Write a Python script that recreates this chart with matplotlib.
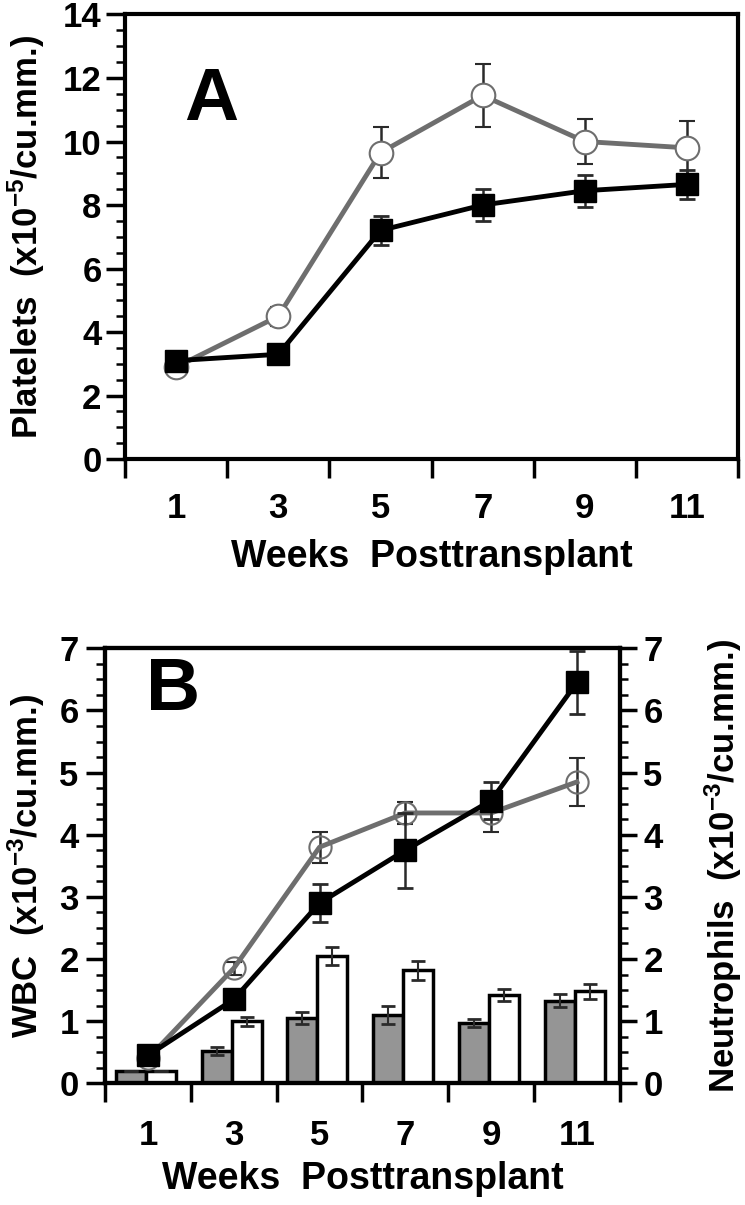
import numpy as np
import matplotlib
matplotlib.use('Agg')
import matplotlib.pyplot as plt

plt.rcParams['font.family'] = ['Liberation Sans', 'DejaVu Sans']
plt.rcParams['font.weight'] = 'bold'
plt.rcParams['mathtext.fontset'] = 'custom'
plt.rcParams['mathtext.rm'] = 'Liberation Sans:bold'
plt.rcParams['mathtext.bf'] = 'Liberation Sans:bold'
plt.rcParams['mathtext.default'] = 'bf'

# data
weeks = [1, 3, 5, 7, 9, 11]

# panel A - platelets
plt_open = [2.9, 4.5, 9.65, 11.45, 10.0, 9.8]
plt_open_err = [0.1, 0.3, 0.8, 1.0, 0.7, 0.85]
plt_filled = [3.1, 3.3, 7.2, 8.0, 8.45, 8.65]
plt_filled_err = [0.15, 0.25, 0.45, 0.5, 0.5, 0.45]

# panel B - WBC lines
wbc_open = [0.4, 1.85, 3.8, 4.35, 4.35, 4.85]
wbc_open_err = [0.05, 0.1, 0.25, 0.17, 0.3, 0.38]
wbc_filled = [0.45, 1.35, 2.9, 3.75, 4.55, 6.45]
wbc_filled_err = [0.05, 0.1, 0.3, 0.6, 0.3, 0.5]

# panel B - neutrophil bars
neut_gray = [0.2, 0.52, 1.05, 1.1, 0.97, 1.33]
neut_gray_err = [0.0, 0.07, 0.1, 0.15, 0.07, 0.1]
neut_white = [0.2, 1.0, 2.05, 1.82, 1.42, 1.48]
neut_white_err = [0.0, 0.07, 0.15, 0.15, 0.09, 0.12]

fig = plt.figure(figsize=(7.45, 12.05), dpi=100)

lw = 3.5
gray_line = '#6e6e6e'
tick_fs = 25
lab_fs = 25


def style_x(ax, pad):
    ax.set_xlim(0, 12)
    ax.set_xticks(np.arange(0, 13, 2))
    ax.set_xticklabels([])
    ax.set_xticks(weeks, minor=True)
    ax.set_xticklabels([str(w) for w in weeks], minor=True)
    ax.tick_params(axis='x', which='major', direction='out', length=14, width=2.5)
    ax.tick_params(axis='x', which='minor', length=0, pad=pad, labelsize=tick_fs)
    for s in ax.spines.values():
        s.set_linewidth(3)


# ---------- panel A ----------
axA = fig.add_axes([0.168, 0.619, 0.8226, 0.369])
axA.errorbar(weeks, plt_open, yerr=plt_open_err, color=gray_line, lw=lw,
             marker='o', ms=17, mfc='white', mec=gray_line, mew=1.5,
             ecolor='#2a2a2a', elinewidth=1.8, capsize=6, capthick=2, zorder=3)
axA.errorbar(weeks, plt_filled, yerr=plt_filled_err, color='black', lw=lw,
             marker='s', ms=16, mfc='black', mec='black',
             ecolor='#2a2a2a', elinewidth=1.8, capsize=6, capthick=2, zorder=4)
style_x(axA, 24)
axA.set_ylim(0, 14)
axA.set_yticks(np.arange(0, 15, 2))
axA.set_yticks(np.arange(0, 14.01, 0.5), minor=True)
axA.tick_params(axis='y', which='major', direction='out', length=14, width=2.5,
                labelsize=tick_fs, pad=3)
axA.tick_params(axis='y', which='minor', direction='out', length=6.5, width=1.8)
axA.set_xlabel('Weeks  Posttransplant', fontsize=27, fontweight='bold', labelpad=10)
axA.set_ylabel('Platelets  (x10$^{-5}$/cu.mm.)', fontsize=lab_fs, fontweight='bold')
axA.yaxis.set_label_coords(-0.128, 0.5)
axA.text(0.096, 0.762, 'A', transform=axA.transAxes, fontsize=54,
         fontweight='bold', ha='left', va='baseline')

# ---------- panel B ----------
axB = fig.add_axes([0.141, 0.101, 0.691, 0.361])
bw = 0.7
xg = [w - 0.4 for w in weeks]
xw = [w + 0.3 for w in weeks]
axB.bar(xg, neut_gray, width=bw, color='#959595', edgecolor='black', lw=2.5,
        yerr=neut_gray_err, error_kw=dict(ecolor='#2a2a2a', elinewidth=1.5,
                                           capsize=5, capthick=2), zorder=2)
axB.bar(xw, neut_white, width=bw, color='white', edgecolor='black', lw=2.5,
        yerr=neut_white_err, error_kw=dict(ecolor='#2a2a2a', elinewidth=1.5,
                                            capsize=5, capthick=2), zorder=2)
axB.errorbar(weeks, wbc_open, yerr=wbc_open_err, color=gray_line, lw=lw,
             marker='o', ms=16, mfc='none', mec=gray_line, mew=1.5,
             ecolor='#2a2a2a', elinewidth=1.8, capsize=6, capthick=2, zorder=3)
axB.errorbar(weeks, wbc_filled, yerr=wbc_filled_err, color='black', lw=lw,
             marker='s', ms=16, mfc='black', mec='black',
             ecolor='#2a2a2a', elinewidth=1.8, capsize=6, capthick=2, zorder=4)
style_x(axB, 26)
axB.set_ylim(0, 7)
axB.set_yticks(np.arange(0, 8, 1))
axB.set_yticks(np.arange(0, 7.01, 0.25), minor=True)
axB.tick_params(axis='y', which='major', direction='out', length=14, width=2.5,
                labelsize=tick_fs, pad=5)
axB.tick_params(axis='y', which='minor', direction='out', length=6.5, width=1.8)
axB.set_xlabel('Weeks  Posttransplant', fontsize=27, fontweight='bold', labelpad=6)
axB.set_ylabel('WBC  (x10$^{-3}$/cu.mm.)', fontsize=lab_fs, fontweight='bold')
axB.yaxis.set_label_coords(-0.112, 0.5)
axB.text(0.08, 0.857, 'B', transform=axB.transAxes, fontsize=54,
         fontweight='bold', ha='left', va='baseline')

axR = axB.twinx()
axR.set_ylim(0, 7)
axR.set_yticks(np.arange(0, 8, 1))
axR.set_yticks(np.arange(0, 7.01, 0.25), minor=True)
axR.tick_params(axis='y', which='major', direction='out', length=12, width=2.5,
                labelsize=tick_fs, pad=5)
axR.tick_params(axis='y', which='minor', direction='out', length=5.5, width=1.8)
axR.set_ylabel('Neutrophils  (x10$^{-3}$/cu.mm.)', fontsize=lab_fs, fontweight='bold')
axR.yaxis.set_label_coords(1.16, 0.5)
for s in axR.spines.values():
    s.set_linewidth(3)

fig.savefig('out.png', dpi=100)
